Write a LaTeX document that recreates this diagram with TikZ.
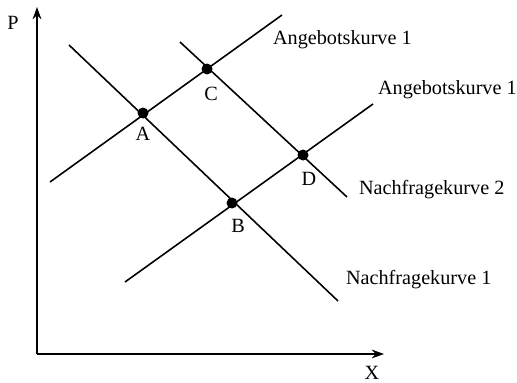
\documentclass[tikz,border=0pt]{standalone}
\usepackage{fontspec}
\setmainfont{Liberation Serif}
\usetikzlibrary{arrows.meta,positioning}
\tikzset{
  curve/.style={line width=0.9pt},
  axis/.style={line width=1pt,-{Stealth[length=7pt,width=5pt]}},
  eqpoint/.style={circle,fill=black,inner sep=0pt,minimum size=0.22cm},
  lbl/.style={font=\fontsize{11.5}{13}\selectfont,inner sep=1pt}
}

\begin{document}
\begin{tikzpicture}[x=0.02cm,y=-0.02cm]
    \useasboundingbox (0,0) rectangle (517,382);
    % axes
    \coordinate (O) at (37,354);
    \coordinate (ptop) at (37,7);
    \coordinate (xend) at (384,354);
    \draw[axis] (O)--(ptop);
    \draw[axis] (O)--(xend);
    \node[lbl] (plabel) at (13,23) {P};
    \node[lbl] (xlabel) at (372,373) {X};
    % curve ends
    \coordinate (s1a) at (50,182); \coordinate (s1b) at (282,15);
    \coordinate (s2a) at (125,282); \coordinate (s2b) at (373,104);
    \coordinate (d1a) at (69,45);  \coordinate (d1b) at (338,301);
    \coordinate (d2a) at (180,42); \coordinate (d2b) at (347,197);
    \draw[curve] (s1a)--(s1b);
    \draw[curve] (s2a)--(s2b);
    \draw[curve] (d1a)--(d1b);
    \draw[curve] (d2a)--(d2b);
    % equilibrium points
    \node[eqpoint] (A) at (143,113) {};
    \node[eqpoint] (C) at (207,69) {};
    \node[eqpoint] (B) at (232,203) {};
    \node[eqpoint] (D) at (303,155) {};
    \node[lbl] (Alabel) at (143,134) {A};
    \node[lbl] (Clabel) at (211,94) {C};
    \node[lbl] (Blabel) at (238,226) {B};
    \node[lbl] (Dlabel) at (309,179) {D};
    % curve labels
    \node[lbl,anchor=west] (s1label) at (271,40) {Angebotskurve 1};
    \node[lbl,anchor=west] (s2label) at (376,90) {Angebotskurve 1};
    \node[lbl,anchor=west] (d2label) at (357,190) {Nachfragekurve 2};
    \node[lbl,anchor=west] (d1label) at (344,280) {Nachfragekurve 1};
\end{tikzpicture}
\end{document}
